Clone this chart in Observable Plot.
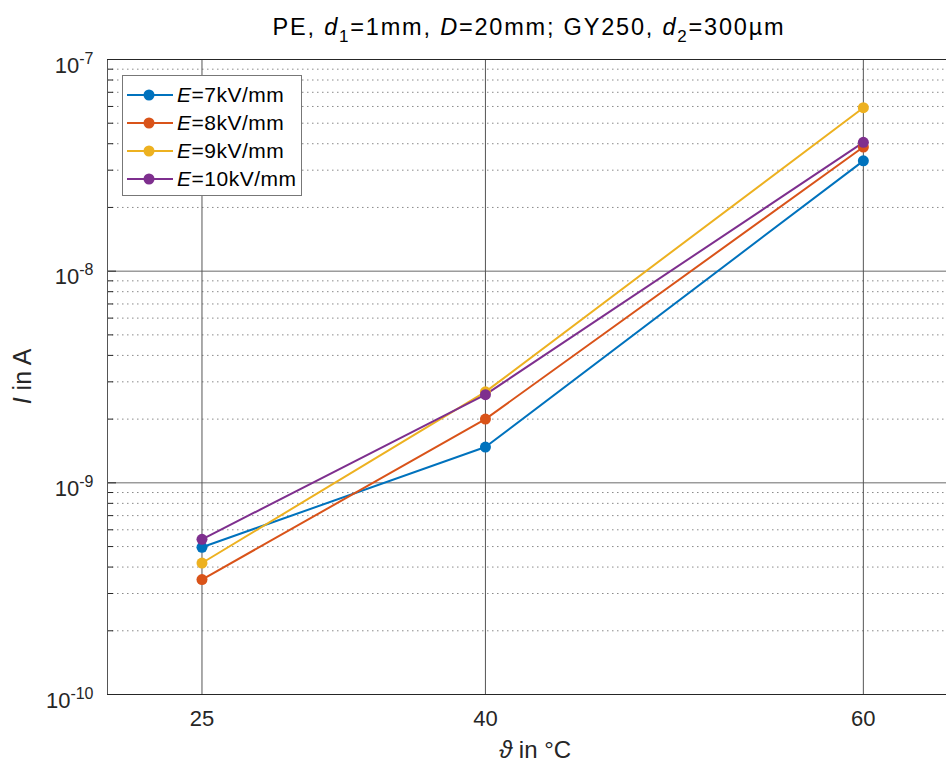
<!DOCTYPE html>
<html><head><meta charset="utf-8">
<script src="https://cdn.jsdelivr.net/npm/d3@7"></script>
<script src="https://cdn.jsdelivr.net/npm/@observablehq/plot@0.6"></script>
<style>
body{margin:0;background:#fff;overflow:hidden;font-family:"Liberation Sans",Arial,sans-serif;color:#262626;}
#wrap{position:relative;width:946px;height:763px;}
#title{position:absolute;left:0;top:13px;width:1058px;text-align:center;font-size:23.5px;letter-spacing:1.8px;color:#000;white-space:nowrap;line-height:28px;}
#title sub{font-size:17px;vertical-align:-7px;line-height:0;}
#chart{position:absolute;left:0;top:50px;}
#legend{position:absolute;left:122px;top:75px;width:180px;height:121px;background:#fff;border:1px solid #777;box-sizing:border-box;}
.lrow{position:absolute;left:4px;height:28px;display:flex;align-items:center;font-size:21px;color:#000;letter-spacing:0.5px;white-space:nowrap;}
.lrow svg{margin-right:4px;}
</style></head><body>
<div id="wrap">
  <div id="title">PE, <i>d</i><sub>1</sub>=1mm, <i>D</i>=20mm; GY250, <i>d</i><sub>2</sub>=300µm</div>
  <div id="chart"></div>
  <div id="legend"></div>
</div>
<script>
const temps = [25, 40, 60];
const fields = [7, 8, 9, 10];
const e7  = [4.96e-10, 1.476e-9, 3.32e-8];
const e8  = [3.49e-10, 2.00e-9, 3.86e-8];
const e9  = [4.18e-10, 2.69e-9, 5.92e-8];
const e10 = [5.41e-10, 2.61e-9, 4.06e-8];
const colors = ["#0072BD", "#D95319", "#EDB120", "#7E2F8E"];
const xTicks = [25, 40, 60];
const yTicks = [1e-10, 1e-9, 1e-8, 1e-7];
const minorTicks = [1e-10, 1e-9, 1e-8].flatMap(b => [2,3,4,5,6,7,8,9].map(k => k * b));

const seriesVals = [e7, e8, e9, e10];
const rows = fields.flatMap((f, i) => temps.map((t, j) => ({E: f, T: t, I: seriesVals[i][j]})));

const W = 946, H = 713, ML = 107, MT = 9, MB = 69, MR = 0;
const frameW = W - ML - MR;

const plot = Plot.plot({
  width: W, height: H,
  marginLeft: ML, marginTop: MT, marginBottom: MB, marginRight: MR,
  style: {fontFamily: '"Liberation Sans", Arial, sans-serif', fontSize: "22px", color: "#262626", background: "#fff", overflow: "visible"},
  x: {domain: [20, 64.4], ticks: xTicks, tickSize: 0, tickPadding: 16, tickFormat: d => String(d), label: null},
  y: {type: "log", domain: [1e-10, 1e-7], ticks: yTicks, tickSize: 0, tickPadding: 14,
      tickFormat: d => "10^" + Math.round(Math.log10(d)), label: null},
  color: {type: "ordinal", domain: fields, range: colors},
  marks: [
    Plot.ruleY(minorTicks, {stroke: "#8a8a8a", strokeDasharray: "1.5,3.5"}),
    Plot.ruleY([1e-9, 1e-8], {stroke: "#6a6a6a"}),
    Plot.ruleX(xTicks, {stroke: "#555"}),
    Plot.ruleY(minorTicks, {stroke: "#262626", insetRight: frameW - 6}),
    Plot.ruleY(yTicks, {stroke: "#262626", insetRight: frameW - 9}),
    Plot.ruleX([20], {stroke: "#555"}),
    Plot.ruleY([1e-10, 1e-7], {stroke: "#262626"}),
    Plot.line(rows, {x: "T", y: "I", z: "E", stroke: "E", strokeWidth: 2}),
    Plot.dot(rows, {x: "T", y: "I", fill: "E", r: 5.5})
  ]
});
document.getElementById("chart").appendChild(plot);

// tick label font size
plot.querySelectorAll('g[aria-label="x-axis tick label"], g[aria-label="y-axis tick label"]').forEach(g => {
  g.setAttribute("font-size", "22");
  g.querySelectorAll("text").forEach(t => t.setAttribute("font-size", "22"));
});

// superscript exponents on y tick labels
plot.querySelectorAll("text").forEach(t => {
  const m = /^10\^(-?\d+)$/.exec(t.textContent);
  if (m) {
    t.textContent = "";
    const ns = "http://www.w3.org/2000/svg";
    const a = document.createElementNS(ns, "tspan");
    a.textContent = "10";
    const b = document.createElementNS(ns, "tspan");
    b.textContent = m[1];
    b.setAttribute("dy", "-0.55em");
    b.setAttribute("font-size", "16px");
    t.appendChild(a); t.appendChild(b);
    t.setAttribute("font-size", "22");
    t.setAttribute("transform", (t.getAttribute("transform") || "") + " translate(0,6)");
    t.setAttribute("fill", "#262626");
  }
});

// axis titles
const svg = d3.select(plot.tagName.toLowerCase() === "svg" ? plot : plot.querySelector("svg"));
svg.append("text").attr("x", 535).attr("y", H - 5).attr("text-anchor", "middle")
  .attr("font-size", 24).attr("fill", "#262626")
  .call(t => { t.append("tspan").attr("font-style", "italic").text("ϑ"); t.append("tspan").text(" in °C"); });
svg.append("text").attr("transform", `translate(31,${MT + (H - MT - MB) / 2}) rotate(-90)`)
  .attr("text-anchor", "middle").attr("font-size", 25).attr("fill", "#262626")
  .call(t => { t.append("tspan").attr("font-style", "italic").text("I"); t.append("tspan").text(" in A"); });

// legend
const leg = document.getElementById("legend");
fields.forEach((f, i) => {
  const row = document.createElement("div");
  row.className = "lrow";
  row.style.top = (5 + i * 28) + "px";
  row.innerHTML = `<svg width="46" height="14"><line x1="0" y1="7" x2="46" y2="7" stroke="${colors[i]}" stroke-width="2"/><circle cx="22" cy="7" r="5.5" fill="${colors[i]}"/></svg><span><i>E</i>=${f}kV/mm</span>`;
  leg.appendChild(row);
});
</script>
</body></html>
